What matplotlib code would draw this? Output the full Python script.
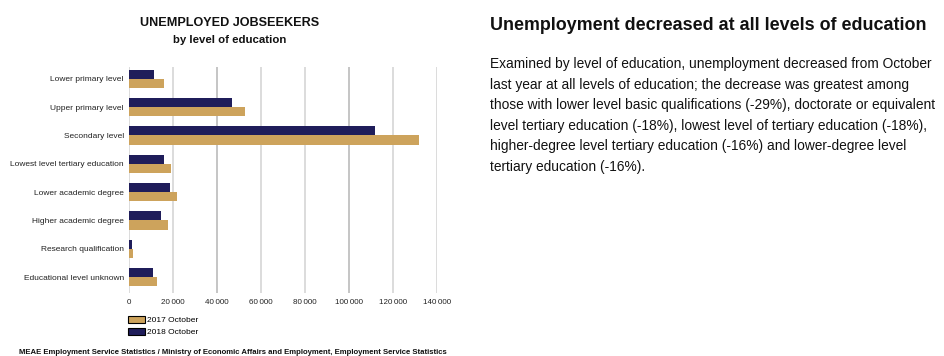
import numpy as np
import matplotlib.pyplot as plt
from matplotlib.patches import Patch
from matplotlib.ticker import FuncFormatter

plt.rcParams['font.family'] = ['Liberation Sans', 'DejaVu Sans']

categories = ['Lower primary level', 'Upper primary level', 'Secondary level',
              'Lowest level tertiary education', 'Lower academic degree',
              'Higher academic degree', 'Research qualification',
              'Educational level unknown']
oct_2018 = [11600, 47000, 112100, 16200, 18600, 14800, 1650, 11200]
oct_2017 = [16200, 53000, 131800, 19100, 22100, 17700, 1800, 12700]
xticks = [0, 20000, 40000, 60000, 80000, 100000, 120000, 140000]

heading = 'Unemployment decreased at all levels of education'
body = ['Examined by level of education, unemployment decreased from October',
        'last year at all levels of education; the decrease was greatest among',
        'those with lower level basic qualifications (-29%), doctorate or equivalent',
        'level tertiary education (-18%), lowest level of tertiary education (-18%),',
        'higher-degree level tertiary education (-16%) and lower-degree level',
        'tertiary education (-16%).']
source = ('MEAE Employment Service Statistics / Ministry of Economic Affairs and '
          'Employment, Employment Service Statistics')

navy = '#1f1d5a'
tan = '#cda35c'

fig = plt.figure(figsize=(9.44, 3.56), dpi=100)
ax = fig.add_axes([0.1363, 0.177, 0.3263, 0.635])

y = np.arange(len(categories))
h = 0.32
ax.barh(y - h / 2, oct_2018, height=h, color=navy, label='2018 October', zorder=3)
ax.barh(y + h / 2, oct_2017, height=h, color=tan, label='2017 October', zorder=3)

ax.set_ylim(len(categories) - 1 + 0.56, -0.42)
ax.set_xlim(0, 140000)
ax.set_yticks(y)
ax.set_yticklabels(categories, fontsize=6.0, color='#222222')
ax.set_xticks(xticks)
ax.xaxis.set_major_formatter(FuncFormatter(lambda v, p: f'{int(v):,}'.replace(',', '\u2009')))
ax.tick_params(axis='x', labelsize=5.8, length=0, pad=4, colors='#222222')
ax.tick_params(axis='y', length=0, pad=3.5)
for v in xticks:
    ax.axvline(v, color='#bbbbbb' if v in (40000, 100000) else '#d6d6d6', lw=1.2, zorder=1)
for s in ax.spines.values():
    s.set_visible(False)

fig.text(0.2436, 0.935, 'UNEMPLOYED JOBSEEKERS', ha='center', va='center',
         fontsize=9.1, fontweight='bold', color='#111111')
fig.text(0.2436, 0.888, 'by level of education', ha='center', va='center',
         fontsize=8.2, fontweight='bold', color='#111111')

handles = [Patch(facecolor=tan, edgecolor='black', lw=0.8, label='2017 October'),
           Patch(facecolor=navy, edgecolor='black', lw=0.8, label='2018 October')]
fig.legend(handles=handles, loc='upper left', bbox_to_anchor=(0.136, 0.112),
           frameon=False, fontsize=6.0, handlelength=2.0, handleheight=0.85,
           handletextpad=0.2, labelspacing=0.45, borderpad=0, borderaxespad=0)

fig.text(0.02, 0.0, source, ha='left', va='bottom', fontsize=5.6,
         fontweight='bold', color='#111111')

fig.text(0.519, 0.927, heading, ha='left', va='center', fontsize=12.9,
         fontweight='bold', color='#111111')
for i, line in enumerate(body):
    fig.text(0.519, (356 - 64 - i * 20.6) / 356, line, ha='left', va='center',
             fontsize=9.9, color='#111111')

fig.savefig('out.png', dpi=100)
